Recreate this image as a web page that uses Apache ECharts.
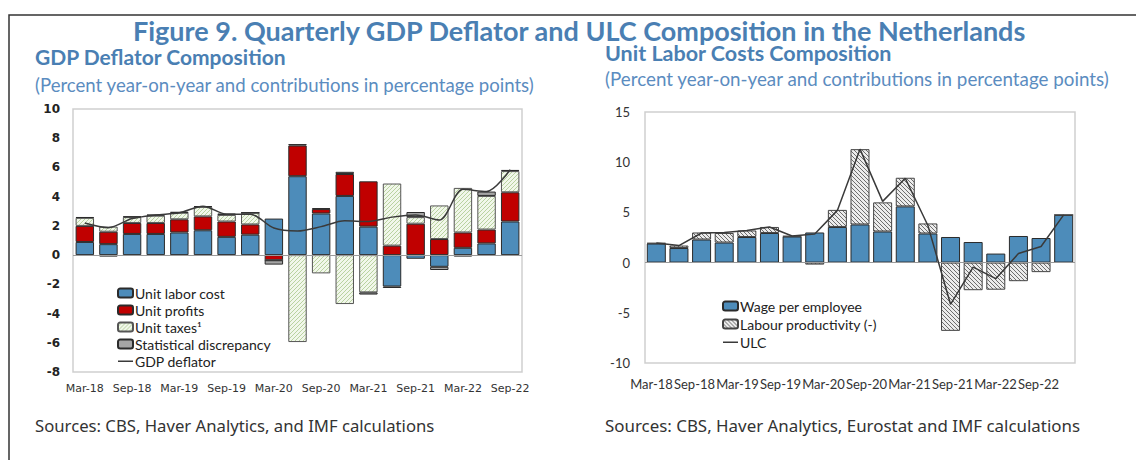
<!DOCTYPE html>
<html>
<head>
<meta charset="utf-8">
<title>Figure 9</title>
<script src="https://cdn.jsdelivr.net/npm/echarts@6/dist/echarts.min.js"></script>
<style>
  html, body { margin: 0; padding: 0; background: #fff; }
  #chart { width: 1136px; height: 460px; }
</style>
</head>
<body>
<div id="chart"></div>
<script>
// quarters, both panels
const quarters = ['Mar-18', 'Jun-18', 'Sep-18', 'Dec-18', 'Mar-19', 'Jun-19', 'Sep-19', 'Dec-19',
  'Mar-20', 'Jun-20', 'Sep-20', 'Dec-20', 'Mar-21', 'Jun-21', 'Sep-21', 'Dec-21', 'Mar-22', 'Jun-22', 'Sep-22'];
const ulcTickLabels = ['Mar-18', 'Sep-18', 'Mar-19', 'Sep-19', 'Mar-20', 'Sep-20', 'Mar-21', 'Sep-21', 'Mar-22', 'Sep-22'];

// left panel: GDP deflator composition (pp)
const unitLaborCost = [0.9, 0.75, 1.45, 1.45, 1.55, 1.7, 1.25, 1.4, 2.5, 5.4, 2.85, 4.05, 1.95, -2.15, -0.25, -0.8, 0.5, 0.8, 2.3];
const unitProfits = [1.1, 0.85, 0.75, 0.75, 0.9, 0.95, 1.05, 0.7, -0.35, 2.1, 0.3, 1.5, 3.1, 0.65, 2.15, 1.1, 1.05, 0.95, 2.0];
const unitTaxes = [0.55, 0.35, 0.4, 0.5, 0.45, 0.65, 0.45, 0.8, 0, -5.95, -1.25, -3.35, -2.55, 4.25, 0.45, 2.3, 3.05, 2.3, 1.45];
const statDiscrepancy = [0.05, -0.1, 0.05, 0.08, 0.05, 0.05, 0.1, 0, -0.3, 0.1, 0.06, 0.15, -0.15, -0.1, 0.35, -0.22, -0.1, 0.3, 0.08];
const gdpDeflator = [2.2, 1.88, 2.5, 2.75, 2.9, 3.35, 2.8, 2.8, 1.85, 1.65, 1.95, 2.35, 2.3, 2.6, 2.75, 2.4, 4.5, 4.35, 5.85];

// right panel: unit labor costs composition (pp)
const wagePerEmployee = [1.9, 1.45, 2.3, 2.0, 2.55, 2.95, 2.6, 3.0, 3.55, 3.8, 3.1, 5.6, 2.9, 2.55, 2.05, 0.9, 2.65, 2.45, 4.75];
const labourProductivity = [0.05, 0.25, 0.7, 0.95, 0.65, 0.6, 0.05, -0.2, 1.7, 7.5, 2.9, 2.85, 1.0, -6.8, -2.75, -2.7, -1.85, -0.95, 0];
const ulc = [1.95, 1.7, 2.95, 3.0, 3.2, 3.55, 2.65, 2.85, 5.2, 11.3, 6.1, 8.4, 3.7, -4.15, -0.45, -1.6, 0.9, 1.6, 4.75];

const BLUE = '#4d8cba';
const RED = '#c00000';
const TITLE_BLUE = '#4a7fb3';
const EDGE = '#2b2b2b';
// plain dash for the line entries in the legends (no marker)
const LINE_ICON = 'path://M0,0L15,0L15,0ZM0,4L15,4L15,5.5L0,5.5ZM0,9L15,9L15,9Z';

// small diagonal hatch tile, returned as data url so svg renderer can use it
const hatch = (bg, fg, size, back) => {
  const c = document.createElement('canvas');
  c.width = c.height = size;
  const ctx = c.getContext('2d');
  ctx.fillStyle = bg;
  ctx.fillRect(0, 0, size, size);
  ctx.strokeStyle = fg;
  ctx.lineWidth = 1;
  ctx.beginPath();
  if (back) {
    ctx.moveTo(0, 0); ctx.lineTo(size, size);
    ctx.moveTo(-1, size - 1); ctx.lineTo(1, size + 1);
    ctx.moveTo(size - 1, -1); ctx.lineTo(size + 1, 1);
  } else {
    ctx.moveTo(0, size); ctx.lineTo(size, 0);
    ctx.moveTo(-1, 1); ctx.lineTo(1, -1);
    ctx.moveTo(size - 1, size + 1); ctx.lineTo(size + 1, size - 1);
  }
  ctx.stroke();
  return { image: c.toDataURL(), repeat: 'repeat' };
};
const taxHatch = hatch('#f1f7ea', '#b9d2a0', 4, false);
const prodHatch = hatch('#ececec', '#6e6e6e', 4, true);

const chart = echarts.init(document.getElementById('chart'), null, { renderer: 'svg' });

const barStyle = (color) => ({ color: color, borderColor: EDGE, borderWidth: 1 });
const zeroLine = {
  silent: true,
  symbol: 'none',
  label: { show: false },
  lineStyle: { color: '#9a9a9a', width: 1, type: 'solid' },
  data: [{ yAxis: 0 }]
};
const legendText = { fontFamily: 'Lato', fontSize: 14, lineHeight: 12, color: '#222', padding: [0, 0, 0, -3] };

const option = {
  animation: false,
  backgroundColor: '#fff',
  title: [
    {
      text: 'Figure 9. Quarterly GDP Deflator and ULC Composition in the Netherlands',
      left: 133, top: 18, padding: 0,
      textStyle: { fontFamily: 'Lato', fontWeight: 'bold', fontSize: 27, lineHeight: 24, color: TITLE_BLUE }
    },
    {
      text: 'GDP Deflator Composition',
      left: 35, top: 47, padding: 0,
      textStyle: { fontFamily: 'Lato', fontWeight: 'bold', fontSize: 21, lineHeight: 18, color: TITLE_BLUE }
    },
    {
      text: 'Unit Labor Costs Composition',
      left: 605, top: 45.5, padding: 0,
      textStyle: { fontFamily: 'Lato', fontWeight: 'bold', fontSize: 21.5, lineHeight: 15, color: TITLE_BLUE }
    },
    {
      text: '(Percent year-on-year and contributions in percentage points)',
      left: 35, top: 75, padding: 0,
      textStyle: { fontFamily: 'Lato', fontWeight: 'normal', fontSize: 18.6, color: '#5b8cc0' }
    },
    {
      text: '(Percent year-on-year and contributions in percentage points)',
      left: 605, top: 69, padding: 0,
      textStyle: { fontFamily: 'Lato', fontWeight: 'normal', fontSize: 18.8, color: '#5b8cc0' }
    },
    {
      text: 'Sources: CBS, Haver Analytics, and IMF calculations',
      left: 35, top: 417, padding: 0,
      textStyle: { fontFamily: 'Noto Sans', fontWeight: 'normal', fontSize: 16.7, color: '#333' }
    },
    {
      text: 'Sources: CBS, Haver Analytics, Eurostat and IMF calculations',
      left: 605, top: 417, padding: 0,
      textStyle: { fontFamily: 'Noto Sans', fontWeight: 'normal', fontSize: 16.9, color: '#333' }
    }
  ],
  legend: [
    {
      left: 117, top: 286, orient: 'vertical', padding: 0,
      itemWidth: 15, itemHeight: 9, itemGap: 3,
      textStyle: legendText,
      data: ['Unit labor cost', 'Unit profits', 'Unit taxes\u00b9', 'Statistical discrepancy',
        { name: 'GDP deflator', icon: LINE_ICON }]
    },
    {
      left: 722, top: 299, orient: 'vertical', padding: 0,
      itemWidth: 15, itemHeight: 9, itemGap: 4,
      textStyle: legendText,
      data: ['Wage per employee', 'Labour productivity (-)', { name: 'ULC', icon: LINE_ICON }]
    }
  ],
  graphic: [
    {
      type: 'polyline', silent: true,
      shape: { points: [[9, 460], [9, 15], [1136, 15]] },
      style: { stroke: '#333', lineWidth: 1.5, fill: null }
    }
  ],
  grid: [
    { left: 73, top: 109, width: 449, height: 263, show: true, borderColor: '#cfcfcf', borderWidth: 1.5 },
    { left: 645, top: 112, width: 430, height: 251, show: true, borderColor: '#cfcfcf', borderWidth: 1.5 },
    // label strip for the right panel's dates
    { left: 630, top: 363, width: 430, height: 1 }
  ],
  xAxis: [
    {
      type: 'category', gridIndex: 0, data: quarters,
      axisLine: { show: false }, axisTick: { show: false },
      axisLabel: { interval: 1, margin: 11, fontFamily: 'DejaVu Sans', fontSize: 11, color: '#333' }
    },
    {
      type: 'category', gridIndex: 1, data: quarters,
      axisLine: { show: false }, axisTick: { show: false }, axisLabel: { show: false }
    },
    {
      type: 'category', gridIndex: 2, data: ulcTickLabels,
      axisLine: { show: false }, axisTick: { show: false },
      axisLabel: { interval: 0, margin: 13, fontFamily: 'Lato', fontSize: 13, color: '#333' }
    }
  ],
  yAxis: [
    {
      type: 'value', gridIndex: 0, min: -8, max: 10, interval: 2,
      axisLine: { show: false }, axisTick: { show: false }, splitLine: { show: false },
      axisLabel: { margin: 13, fontFamily: 'DejaVu Sans', fontWeight: 'bold', fontSize: 12, color: '#222' }
    },
    {
      type: 'value', gridIndex: 1, min: -10, max: 15, interval: 5,
      axisLine: { show: false }, axisTick: { show: false }, splitLine: { show: false },
      axisLabel: { margin: 15, fontFamily: 'Lato', fontSize: 13, color: '#333' }
    },
    { type: 'value', gridIndex: 2, show: false }
  ],
  series: [
    {
      name: 'Unit labor cost', type: 'bar', stack: 'gdp', xAxisIndex: 0, yAxisIndex: 0,
      barCategoryGap: '22%', itemStyle: barStyle(BLUE), data: unitLaborCost, markLine: zeroLine
    },
    {
      name: 'Unit profits', type: 'bar', stack: 'gdp', xAxisIndex: 0, yAxisIndex: 0,
      itemStyle: barStyle(RED), data: unitProfits
    },
    {
      name: 'Unit taxes\u00b9', type: 'bar', stack: 'gdp', xAxisIndex: 0, yAxisIndex: 0,
      itemStyle: { color: taxHatch, borderColor: '#555', borderWidth: 1 }, data: unitTaxes
    },
    {
      name: 'Statistical discrepancy', type: 'bar', stack: 'gdp', xAxisIndex: 0, yAxisIndex: 0,
      itemStyle: barStyle('#a5a5a5'), data: statDiscrepancy
    },
    {
      name: 'GDP deflator', type: 'line', xAxisIndex: 0, yAxisIndex: 0, smooth: 0.3,
      symbol: 'none', lineStyle: { color: '#3a3a3a', width: 1.5 }, itemStyle: { color: '#3a3a3a' },
      data: gdpDeflator, z: 5
    },
    {
      name: 'Wage per employee', type: 'bar', stack: 'ulc', xAxisIndex: 1, yAxisIndex: 1,
      barCategoryGap: '16%', itemStyle: barStyle(BLUE), data: wagePerEmployee, markLine: zeroLine
    },
    {
      name: 'Labour productivity (-)', type: 'bar', stack: 'ulc', xAxisIndex: 1, yAxisIndex: 1,
      itemStyle: { color: prodHatch, borderColor: '#444', borderWidth: 1 }, data: labourProductivity
    },
    {
      name: 'ULC', type: 'line', xAxisIndex: 1, yAxisIndex: 1,
      symbol: 'none', lineStyle: { color: '#3a3a3a', width: 1.5 }, itemStyle: { color: '#3a3a3a' },
      data: ulc, z: 5
    }
  ]
};

chart.setOption(option);
</script>
</body>
</html>
